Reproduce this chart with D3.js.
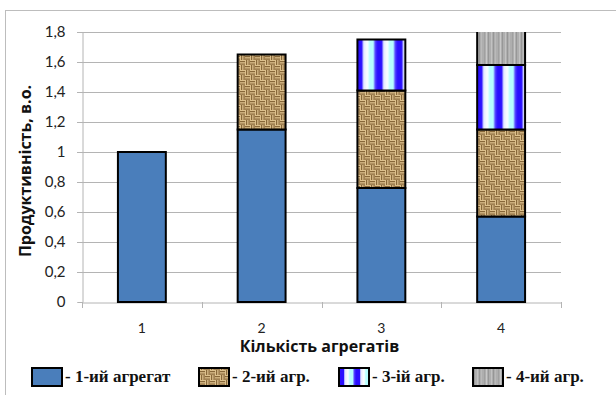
<!DOCTYPE html>
<html>
<head>
<meta charset="utf-8">
<script src="https://cdn.jsdelivr.net/npm/d3@7"></script>
<style>
  html, body { margin: 0; padding: 0; background: #fff; }
  svg { display: block; }
</style>
</head>
<body>
<svg id="chart" width="616" height="395"></svg>
<script>
// Number of units in operation
const categories = ["1", "2", "3", "4"];
// Productivity share contributed by each unit (stacked)
const unit1 = [1.00, 1.15, 0.76, 0.57];
const unit2 = [0.00, 0.50, 0.65, 0.58];
const unit3 = [0.00, 0.00, 0.34, 0.43];
const unit4 = [0.00, 0.00, 0.00, 0.32];
const yTicks = [0, 0.2, 0.4, 0.6, 0.8, 1, 1.2, 1.4, 1.6, 1.8];
const seriesNames = ["- 1-ий агрегат", "- 2-ий агр.", "- 3-ій агр.", "- 4-ий агр."];
const yTitle = "Продуктивність, в.о.";
const xTitle = "Кількість агрегатів";

const svg = d3.select("#chart");
const defs = svg.append("defs");

const plot = { left: 82, right: 561, top: 32, bottom: 302 };

const x = d3.scaleBand()
  .domain(categories)
  .range([plot.left, plot.right])
  .paddingInner(0.6)
  .paddingOuter(0.3);

const y = d3.scaleLinear()
  .domain([0, 1.8])
  .range([plot.bottom, plot.top]);

// ---------- fill patterns ----------
// woven burlap
(function () {
  const s = 10;
  const p = defs.append("pattern").attr("id", "weave")
    .attr("patternUnits", "userSpaceOnUse").attr("width", s).attr("height", s);
  p.append("rect").attr("width", s).attr("height", s).attr("fill", "#dcc08c");
  const dark = "#7d5d30";
  const h = s / 2;
  // horizontal strands in two cells, vertical in the other two
  [[0, 0, "h"], [h, h, "h"], [h, 0, "v"], [0, h, "v"]].forEach(([cx, cy, o]) => {
    for (let k = 0; k < 2; k++) {
      if (o === "h") {
        p.append("rect").attr("x", cx).attr("y", cy + k * 2.5 + 1).attr("width", h).attr("height", 1.2).attr("fill", dark).attr("opacity", 0.9);
      } else {
        p.append("rect").attr("x", cx + k * 2.5 + 1).attr("y", cy).attr("width", 1.2).attr("height", h).attr("fill", dark).attr("opacity", 0.9);
      }
    }
  });
})();

// blue / cyan vertical stripes
function stripes(id, x0, period) {
  const g = defs.append("linearGradient").attr("id", id + "-g")
    .attr("x1", 0).attr("x2", 1).attr("y1", 0).attr("y2", 0);
  [[0, "#2a10ff"], [0.22, "#2a10ff"], [0.3, "#dfe8ff"], [0.5, "#ffffff"],
   [0.62, "#b6ffff"], [0.8, "#b6ffff"], [0.88, "#5a4cff"], [1, "#2a10ff"]]
    .forEach(([o, c]) => g.append("stop").attr("offset", o).attr("stop-color", c));
  const p = defs.append("pattern").attr("id", id)
    .attr("patternUnits", "userSpaceOnUse")
    .attr("x", x0).attr("y", 0).attr("width", period).attr("height", 10);
  p.append("rect").attr("width", period).attr("height", 10).attr("fill", `url(#${id}-g)`);
}
stripes("stripes", x(categories[2]), 20);

// grey streaks
(function () {
  const s = 14;
  const p = defs.append("pattern").attr("id", "streaks")
    .attr("patternUnits", "userSpaceOnUse").attr("width", s).attr("height", s);
  p.append("rect").attr("width", s).attr("height", s).attr("fill", "#aeaeae");
  [[1, "#c2c2c2"], [3, "#969696"], [5, "#bababa"], [8, "#a0a0a0"], [10, "#c8c8c8"], [12, "#979797"]]
    .forEach(([px, c]) => p.append("rect").attr("x", px).attr("width", 1).attr("height", s).attr("fill", c));
})();

const fills = ["#4a7ebb", "url(#weave)", "url(#stripes)", "url(#streaks)"];

// ---------- outer frame ----------
svg.append("rect")
  .attr("x", 5.5).attr("y", 10.5).attr("width", 700).attr("height", 500)
  .attr("fill", "none").attr("stroke", "#bdbdbd").attr("stroke-width", 1);

// ---------- grid & axes ----------
const gridColor = "#b4b4b4";
svg.append("g").selectAll("line").data(yTicks.slice(1)).join("line")
  .attr("x1", plot.left - 5).attr("x2", plot.right)
  .attr("y1", d => Math.round(y(d)) + 0.5).attr("y2", d => Math.round(y(d)) + 0.5)
  .attr("stroke", gridColor);

const yAxis = svg.append("g")
  .attr("transform", `translate(${plot.left + 0.5},0)`)
  .call(d3.axisLeft(y).tickValues(yTicks).tickSize(5).tickPadding(12)
    .tickFormat(d => d3.format("~g")(d).replace(".", ",")));
yAxis.select(".domain").attr("stroke", gridColor);
yAxis.selectAll(".tick line").attr("stroke", gridColor);
yAxis.selectAll(".tick text")
  .attr("font-family", "Lato, 'Open Sans', sans-serif")
  .attr("font-size", 15).attr("fill", "#222");

const xAxis = svg.append("g")
  .attr("transform", `translate(0,${plot.bottom + 0.5})`)
  .call(d3.axisBottom(x).tickSize(0).tickPadding(21));
xAxis.select(".domain").attr("stroke", gridColor);
xAxis.selectAll(".tick text")
  .attr("font-family", "Lato, 'Open Sans', sans-serif")
  .attr("font-size", 14).attr("fill", "#222");
// category boundary ticks
const bounds = d3.range(categories.length + 1).map(i => plot.left + i * x.step());
svg.append("g").selectAll("line").data(bounds).join("line")
  .attr("x1", d => Math.round(d) + 0.5).attr("x2", d => Math.round(d) + 0.5)
  .attr("y1", plot.bottom).attr("y2", plot.bottom + 6)
  .attr("stroke", gridColor);

// ---------- stacked bars ----------
svg.append("clipPath").attr("id", "plotClip")
  .append("rect")
  .attr("x", plot.left - 5).attr("y", plot.top)
  .attr("width", plot.right - plot.left + 10).attr("height", plot.bottom - plot.top + 5);

const table = categories.map((c, i) => ({
  cat: c, u1: unit1[i], u2: unit2[i], u3: unit3[i], u4: unit4[i]
}));
const stack = d3.stack().keys(["u1", "u2", "u3", "u4"])(table);

const bars = svg.append("g").attr("clip-path", "url(#plotClip)");
stack.forEach((layer, li) => {
  bars.append("g").selectAll("rect")
    .data(layer.filter(d => d[1] - d[0] > 0))
    .join("rect")
    .attr("x", d => x(d.data.cat))
    .attr("width", x.bandwidth())
    .attr("y", d => y(d[1]))
    .attr("height", d => y(d[0]) - y(d[1]))
    .attr("fill", fills[li])
    .attr("stroke", "#000")
    .attr("stroke-width", 2);
});

// ---------- axis titles ----------
svg.append("text")
  .attr("transform", `translate(31,${(plot.top + plot.bottom) / 2 + 4}) rotate(-90)`)
  .attr("text-anchor", "middle")
  .attr("font-family", "'Open Sans', sans-serif").attr("font-weight", "bold")
  .attr("font-size", 16).attr("fill", "#111")
  .text(yTitle);

svg.append("text")
  .attr("x", (plot.left + plot.right) / 2 - 2).attr("y", 352)
  .attr("text-anchor", "middle")
  .attr("font-family", "'Open Sans', sans-serif").attr("font-weight", "bold")
  .attr("font-size", 16).attr("fill", "#111")
  .text(xTitle);

// ---------- legend ----------
const legendX = [32, 199, 339, 473];
stripes("stripesKey", legendX[2] + 1, 16);
const keyFills = ["#4a7ebb", "url(#weave)", "url(#stripesKey)", "url(#streaks)"];
const legend = svg.append("g");
seriesNames.forEach((name, i) => {
  legend.append("rect")
    .attr("x", legendX[i]).attr("y", 368)
    .attr("width", 30).attr("height", 18)
    .attr("fill", keyFills[i]).attr("stroke", "#000").attr("stroke-width", 2);
  legend.append("text")
    .attr("x", legendX[i] + 33).attr("y", 382)
    .attr("font-family", "'Liberation Serif', 'Times New Roman', serif")
    .attr("font-weight", "bold").attr("font-size", 17).attr("fill", "#111")
    .text(name);
});
</script>
</body>
</html>
